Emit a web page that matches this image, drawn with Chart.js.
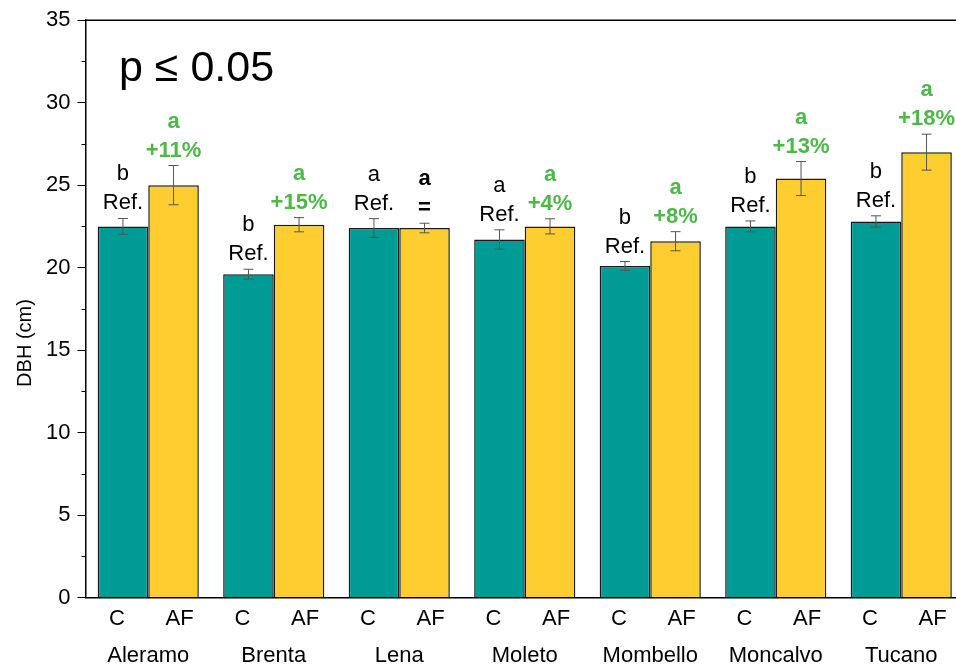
<!DOCTYPE html>
<html>
<head>
<meta charset="utf-8">
<script src="https://cdn.jsdelivr.net/npm/chart.js@4.4.1/dist/chart.umd.min.js"></script>
<style>
  html, body { margin: 0; padding: 0; background: #fff; overflow: hidden; }
  canvas { display: block; }
</style>
</head>
<body>
<canvas id="grafico" width="966" height="667"></canvas>
<script>
// siti e valori medi di DBH (cm)
var siti = ["Aleramo", "Brenta", "Lena", "Moleto", "Mombello", "Moncalvo", "Tucano"];
var trattamenti = ["C", "AF", "C", "AF", "C", "AF", "C", "AF", "C", "AF", "C", "AF", "C", "AF"];
var dbhC = [22.5, 19.6, 22.4, 21.7, 20.1, 22.5, 22.8];
var dbhAF = [25.0, 22.6, 22.4, 22.5, 21.6, 25.4, 27.0];
var erroreC = [0.48, 0.30, 0.57, 0.59, 0.27, 0.33, 0.34];
var erroreAF = [1.19, 0.43, 0.29, 0.46, 0.58, 1.03, 1.09];
var lettereC = ["b", "b", "a", "a", "b", "b", "b"];
var lettereAF = ["a", "a", "a", "a", "a", "a", "a"];
var variazioniAF = ["+11%", "+15%", "=", "+4%", "+8%", "+13%", "+18%"];
var tickY = [0, 5, 10, 15, 20, 25, 30, 35];

var coloreC = "#009b95";
var coloreAF = "#fecd30";
var verde = "#4db848";
var font = "'Liberation Sans', Arial, sans-serif";

Chart.defaults.font.family = font;
Chart.defaults.color = "#000";

var erroriPlugin = {
    id: "errori",
    afterDatasetsDraw: function(chart){
        var ctx = chart.ctx;
        var y = chart.scales.y;
        var errori = [erroreC, erroreAF];
        ctx.save();
        ctx.strokeStyle = "#555";
        ctx.lineWidth = 1;
        for (var d = 0; d < 2; d++){
            var meta = chart.getDatasetMeta(d);
            var valori = chart.data.datasets[d].data;
            for (var i = 0; i < meta.data.length; i++){
                var x = meta.data[i].x;
                var alto = y.getPixelForValue(valori[i] + errori[d][i]);
                var basso = y.getPixelForValue(valori[i] - errori[d][i]);
                ctx.beginPath();
                ctx.moveTo(x, alto); ctx.lineTo(x, basso);
                ctx.moveTo(x - 5, alto); ctx.lineTo(x + 5, alto);
                ctx.moveTo(x - 5, basso); ctx.lineTo(x + 5, basso);
                ctx.stroke();
            }
        }
        ctx.restore();
    }
};

var etichettePlugin = {
    id: "etichette",
    afterDraw: function(chart){
        var ctx = chart.ctx;
        var y = chart.scales.y;
        var area = chart.chartArea;
        ctx.save();

        // cornice superiore e tacche minori
        ctx.strokeStyle = "#000";
        ctx.lineWidth = 1.5;
        ctx.beginPath();
        ctx.moveTo(area.left, area.top);
        ctx.lineTo(area.right, area.top);
        ctx.lineTo(area.right, area.bottom);
        ctx.stroke();
        ctx.lineWidth = 1;
        for (var v = 2.5; v < 35; v += 5){
            var py = Math.round(y.getPixelForValue(v)) + 0.5;
            ctx.beginPath();
            ctx.moveTo(area.left - 4, py);
            ctx.lineTo(area.left, py);
            ctx.stroke();
        }

        // lettere e variazioni sopra le barre
        ctx.textAlign = "center";
        ctx.textBaseline = "alphabetic";
        var errori = [erroreC, erroreAF];
        for (var d = 0; d < 2; d++){
            var meta = chart.getDatasetMeta(d);
            var valori = chart.data.datasets[d].data;
            for (var i = 0; i < meta.data.length; i++){
                var x = meta.data[i].x;
                var top = y.getPixelForValue(valori[i] + errori[d][i]);
                var riga1, riga2;
                if (d === 0){
                    ctx.fillStyle = "#000";
                    ctx.font = "22px " + font;
                    riga1 = lettereC[i];
                    riga2 = "Ref.";
                } else {
                    ctx.fillStyle = variazioniAF[i] === "=" ? "#000" : verde;
                    ctx.font = "bold 22px " + font;
                    riga1 = lettereAF[i];
                    riga2 = variazioniAF[i];
                }
                ctx.fillText(riga2, x, top - 9);
                ctx.fillText(riga1, x, top - 38);
            }
        }

        // titolo asse y
        ctx.fillStyle = "#000";
        ctx.font = "20px " + font;
        ctx.translate(31, 343);
        ctx.rotate(-Math.PI / 2);
        ctx.fillText("DBH (cm)", 0, 0);
        ctx.restore();

        ctx.save();
        ctx.fillStyle = "#000";
        ctx.font = "43px " + font;
        ctx.textAlign = "left";
        ctx.fillText("p \u2264 0.05", 119, 81);
        ctx.restore();
    }
};

var context = document.getElementById("grafico").getContext("2d");

var chart = new Chart(context, {
    type: "bar",
    data: {
        labels: siti,
        datasets: [{
            label: "C",
            data: dbhC,
            backgroundColor: coloreC,
            borderColor: "#1a1a1a",
            borderWidth: 1.5,
            xAxisID: "x"
        }, {
            label: "AF",
            data: dbhAF,
            backgroundColor: coloreAF,
            borderColor: "#1a1a1a",
            borderWidth: 1.5,
            xAxisID: "x"
        }]
    },
    options: {
        responsive: false,
        animation: false,
        layout: { padding: { left: 0, top: 19, right: 2, bottom: 0 } },
        datasets: {
            bar: { barPercentage: 1, categoryPercentage: 0.806 }
        },
        plugins: {
            legend: { display: false },
            tooltip: { enabled: false }
        },
        scales: {
            x: {
                weight: 1,
                grid: { display: false },
                border: { display: false },
                ticks: { font: { size: 22 }, padding: 5, color: "#000" },
                afterFit: function(scale){ scale.height = 37.5; }
            },
            x2: {
                type: "category",
                position: "bottom",
                weight: 0,
                labels: trattamenti,
                offset: true,
                grid: { display: false },
                border: { display: true, color: "#000", width: 1.5 },
                ticks: { font: { size: 22 }, padding: 0, color: "#000", autoSkip: false, maxRotation: 0 },
                afterFit: function(scale){ scale.height = 32; }
            },
            y: {
                min: 0,
                max: 35,
                afterBuildTicks: function(scale){
                    scale.ticks = tickY.map(v => ({ value: v }));
                },
                grid: { drawOnChartArea: false, tickLength: 8, tickColor: "#000", tickWidth: 1 },
                border: { display: true, color: "#000", width: 1.5 },
                ticks: { font: { size: 22 }, padding: 7, color: "#000" },
                afterFit: function(scale){ scale.width = 85.5; }
            }
        }
    },
    plugins: [erroriPlugin, etichettePlugin]
});
</script>
</body>
</html>
